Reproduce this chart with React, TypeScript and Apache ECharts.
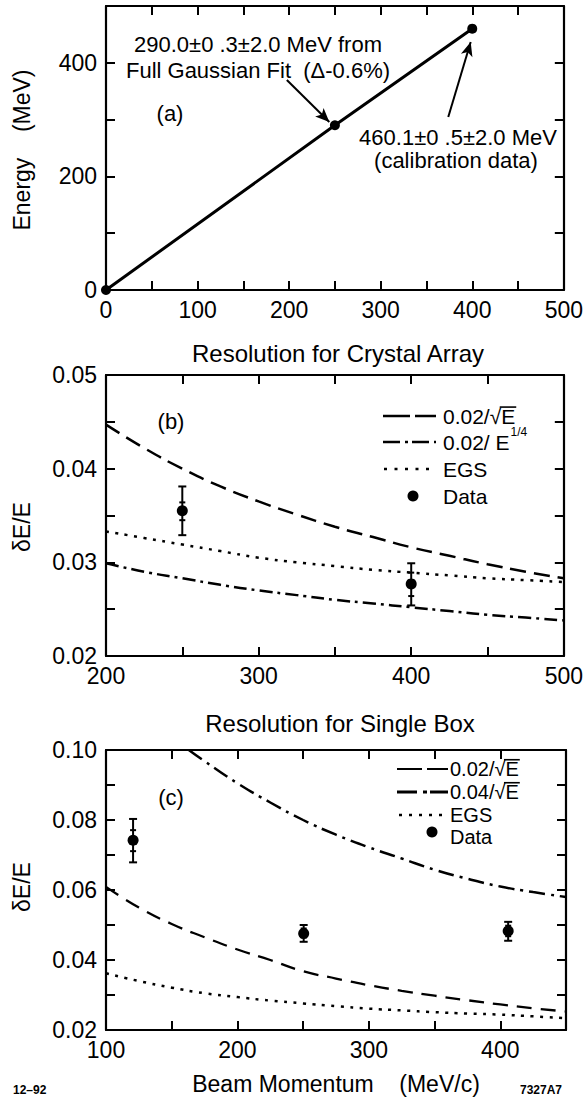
import React, { useEffect, useRef } from "react";
import * as echarts from "echarts";

// ---------- Panel (a): energy calibration ----------
const aMomentum = [0, 250, 400];
const aEnergy = [0, 290.0, 460.1];

// ---------- Panel (b): Resolution for Crystal Array ----------
const bCurveX = [200, 225, 250, 275, 300, 325, 350, 375, 400, 425, 450, 475, 500];
const bSqrt02 = [0.0447, 0.0422, 0.04, 0.0381, 0.0365, 0.0351, 0.0338, 0.0327, 0.0316, 0.0307, 0.0298, 0.029, 0.0283];
const bQuart02 = [0.0299, 0.029, 0.0283, 0.0276, 0.027, 0.0265, 0.026, 0.0256, 0.0252, 0.0248, 0.0244, 0.0241, 0.0238];
const bEGS = [0.0333, 0.0326, 0.0319, 0.0312, 0.0305, 0.03, 0.0296, 0.0292, 0.0289, 0.0286, 0.0283, 0.0281, 0.0279];
const bDataX = [250, 400];
const bDataY = [0.0355, 0.0277];
const bDataLo = [0.0329, 0.0254];
const bDataHi = [0.0381, 0.0299];
const bStatLo = [0.0345, 0.0264];
const bStatHi = [0.0364, 0.0289];

// ---------- Panel (c): Resolution for Single Box ----------
const cCurveX = [100, 125, 150, 175, 200, 225, 250, 275, 300, 325, 350, 375, 400, 425, 450];
const cSqrt02 = [0.0609, 0.055, 0.0503, 0.0465, 0.043, 0.04, 0.0368, 0.0347, 0.0328, 0.0312, 0.0298, 0.0285, 0.0273, 0.0262, 0.0253];
const cEGS = [0.0362, 0.034, 0.0321, 0.0305, 0.0294, 0.0284, 0.0276, 0.0268, 0.0261, 0.0256, 0.0251, 0.0247, 0.0244, 0.0239, 0.0234];
const cSqrt04X = [163, 175, 200, 225, 250, 275, 300, 325, 350, 375, 400, 425, 450];
const cSqrt04 = [0.1, 0.0968, 0.0905, 0.085, 0.08, 0.0758, 0.0722, 0.069, 0.0658, 0.0632, 0.061, 0.0594, 0.058];
const cDataX = [120.6, 250.4, 406];
const cDataY = [0.0742, 0.0476, 0.0483];
const cDataLo = [0.0679, 0.0452, 0.0455];
const cDataHi = [0.0803, 0.05, 0.0509];
const cStatLo = [0.0711, 0.0464, 0.0468];
const cStatHi = [0.0771, 0.049, 0.0498];

const FONT = '"Liberation Sans", Arial, Helvetica, sans-serif';
const BLACK = "#000";
const NB = "\u00a0";

const isMult = (v: number, step: number) => Math.abs(v / step - Math.round(v / step)) < 1e-6;

function xAxes(grid: number, min: number, max: number, interval: number, labelStep: number) {
  const base = {
    type: "value",
    gridIndex: grid,
    min,
    max,
    interval,
    axisLine: { show: true, onZero: false, lineStyle: { color: BLACK, width: 2.2 } },
    axisTick: { show: true, inside: true, length: 9, lineStyle: { color: BLACK, width: 2 } },
    splitLine: { show: false },
  };
  return [
    {
      ...base,
      position: "bottom",
      axisLabel: {
        show: true,
        color: BLACK,
        fontFamily: FONT,
        fontSize: 23,
        margin: 8,
        formatter: (v: number) => (isMult(v, labelStep) ? String(Math.round(v)) : ""),
      },
    },
    { ...base, position: "top", axisLabel: { show: false } },
  ];
}

function yAxes(grid: number, min: number, max: number, interval: number, labelStep: number, decimals: number) {
  const base = {
    type: "value",
    gridIndex: grid,
    min,
    max,
    interval,
    axisLine: { show: true, onZero: false, lineStyle: { color: BLACK, width: 2.2 } },
    axisTick: { show: true, inside: true, length: 9, lineStyle: { color: BLACK, width: 2 } },
    splitLine: { show: false },
  };
  return [
    {
      ...base,
      position: "left",
      axisLabel: {
        show: true,
        color: BLACK,
        fontFamily: FONT,
        fontSize: 23,
        margin: 9,
        formatter: (v: number) => (isMult(v, labelStep) ? v.toFixed(decimals) : ""),
      },
    },
    { ...base, position: "right", axisLabel: { show: false } },
  ];
}

function curve(xi: number, yi: number, xs: number[], ys: number[], dash: number[], width = 2.5) {
  return {
    type: "line",
    xAxisIndex: xi,
    yAxisIndex: yi,
    data: xs.map((x, i) => [x, ys[i]]),
    smooth: true,
    showSymbol: false,
    symbol: "none",
    clip: true,
    lineStyle: { color: BLACK, width, type: dash, cap: "butt" },
    z: 2,
  };
}

function errorBars(xi: number, yi: number, xs: number[], ys: number[], lo: number[], hi: number[], sl: number[], sh: number[]) {
  return {
    type: "custom",
    xAxisIndex: xi,
    yAxisIndex: yi,
    data: xs.map((x, i) => [x, ys[i], lo[i], hi[i], sl[i], sh[i]]),
    encode: { x: 0, y: [1, 2, 3] },
    z: 3,
    renderItem: (_p: any, api: any) => {
      const x = api.value(0);
      const pHi = api.coord([x, api.value(3)]);
      const pLo = api.coord([x, api.value(2)]);
      const pSl = api.coord([x, api.value(4)]);
      const pSh = api.coord([x, api.value(5)]);
      const style = { stroke: BLACK, lineWidth: 2 };
      const cap = 4;
      const st = 3;
      const ln = (x1: number, y1: number, x2: number, y2: number) => ({
        type: "line",
        shape: { x1, y1, x2, y2 },
        style,
      });
      return {
        type: "group",
        children: [
          ln(pHi[0], pHi[1], pLo[0], pLo[1]),
          ln(pHi[0] - cap, pHi[1], pHi[0] + cap, pHi[1]),
          ln(pLo[0] - cap, pLo[1], pLo[0] + cap, pLo[1]),
          ln(pSh[0] - st, pSh[1], pSh[0] + st, pSh[1]),
          ln(pSl[0] - st, pSl[1], pSl[0] + st, pSl[1]),
        ],
      };
    },
  };
}

function dots(xi: number, yi: number, xs: number[], ys: number[], size = 11) {
  return {
    type: "scatter",
    xAxisIndex: xi,
    yAxisIndex: yi,
    data: xs.map((x, i) => [x, ys[i]]),
    symbol: "circle",
    symbolSize: size,
    itemStyle: { color: BLACK, opacity: 1 },
    z: 4,
  };
}

const txt = (x: number, y: number, text: string, size = 22, align = "left", extra: any = {}, weight = "normal") => ({
  type: "text",
  x,
  y,
  silent: true,
  ...extra,
  style: {
    text,
    fill: BLACK,
    font: `${weight} ${size}px ${FONT}`,
    textAlign: align,
    textVerticalAlign: "middle",
  },
});

const seg = (x1: number, y1: number, x2: number, y2: number, dash: number[] | null, width = 2.5) => ({
  type: "line",
  silent: true,
  shape: { x1, y1, x2, y2 },
  style: { stroke: BLACK, lineWidth: width, lineDash: dash || undefined },
});

// measure text widths so that the square-root bar sits over the E
function measure(text: string, size: number) {
  const c = document.createElement("canvas").getContext("2d");
  if (!c) return { w: text.length * size * 0.55, asc: size * 0.8 };
  c.font = `${size}px ${FONT}`;
  const m = c.measureText(text);
  return { w: m.width, asc: m.actualBoundingBoxAscent || size * 0.8 };
}

function sqrtLabel(x: number, cy: number, text: string, size: number) {
  const pre = measure(text.slice(0, text.length - 1), size).w;
  const full = measure(text, size).w;
  const rad = measure("√", size).asc;
  const baseline = cy + size * 0.3465;
  const yBar = baseline - rad + 0.8;
  return [txt(x, cy, text, size), seg(x + pre - 1.5, yBar, x + full + 1, yBar, null, 1.6)];
}

export default function App() {
  const ref = useRef<HTMLDivElement>(null);

  useEffect(() => {
    if (!ref.current) return;
    const chart = echarts.init(ref.current, undefined, { renderer: "svg" });

    const dashLong = [16, 8];
    const dashDot = [13, 5, 3, 5];
    const dotted = [3, 6.5];

    const fb = 21;
    const fc = 20;
    const quartW = measure(`0.02/${NB}E`, fb).w;

    const option: any = {
      animation: false,
      backgroundColor: "#fff",
      grid: [
        { left: 106, top: 6, width: 461, height: 284 },
        { left: 106, top: 375, width: 460, height: 281 },
        { left: 106, top: 750, width: 460, height: 280 },
      ],
      xAxis: [
        ...xAxes(0, 0, 500, 50, 100),
        ...xAxes(1, 200, 500, 50, 100),
        ...xAxes(2, 100, 450, 50, 100),
      ],
      yAxis: [
        ...yAxes(0, 0, 500, 100, 200, 0),
        ...yAxes(1, 0.02, 0.05, 0.005, 0.01, 2),
        ...yAxes(2, 0.02, 0.1, 0.01, 0.02, 2),
      ],
      series: [
        {
          type: "line",
          xAxisIndex: 0,
          yAxisIndex: 0,
          data: aMomentum.map((x, i) => [x, aEnergy[i]]),
          symbol: "circle",
          symbolSize: 10,
          showSymbol: true,
          itemStyle: { color: BLACK, opacity: 1 },
          lineStyle: { color: BLACK, width: 3 },
          clip: false,
          z: 3,
          markLine: {
            silent: true,
            symbol: ["none", "arrow"],
            symbolSize: [9, 14],
            label: { show: false },
            lineStyle: { color: BLACK, width: 2, type: "solid" },
            data: [
              [{ coord: [197.5, 369.7] }, { coord: [243.9, 295.8] }],
              [{ coord: [373.8, 304.6] }, { coord: [398.3, 436.6] }],
            ],
          },
        },
        curve(2, 2, bCurveX, bSqrt02, dashLong),
        curve(2, 2, bCurveX, bQuart02, dashDot),
        curve(2, 2, bCurveX, bEGS, dotted),
        errorBars(2, 2, bDataX, bDataY, bDataLo, bDataHi, bStatLo, bStatHi),
        dots(2, 2, bDataX, bDataY),
        curve(4, 4, cCurveX, cSqrt02, [15, 9], 2.3),
        curve(4, 4, cSqrt04X, cSqrt04, [16, 6, 3, 6]),
        curve(4, 4, cCurveX, cEGS, dotted),
        errorBars(4, 4, cDataX, cDataY, cDataLo, cDataHi, cStatLo, cStatHi),
        dots(4, 4, cDataX, cDataY),
      ],
      graphic: [
        // panel (a)
        txt(22, 150, `Energy${NB}${NB}${NB}${NB}(MeV)`, 23, "center", { rotation: Math.PI / 2 }),
        txt(258, 44, `290.0±0${NB}.3±2.0 MeV from`, 22, "center"),
        txt(258, 70, `Full Gaussian Fit${NB}${NB}(Δ-0.6%)`, 22, "center"),
        txt(170, 113, "(a)", 22, "center"),
        txt(458, 137, `460.1±0${NB}.5±2.0 MeV`, 22, "center"),
        txt(456, 160, "(calibration data)", 22, "center"),
        // panel (b)
        txt(338, 353, "Resolution for Crystal Array", 24, "center"),
        txt(22, 527, "δE/E", 23, "center", { rotation: Math.PI / 2 }),
        txt(171, 421, "(b)", 22, "center"),
        seg(383, 416, 436, 416, [27, 5]),
        ...sqrtLabel(443, 416, "0.02/√E", fb),
        seg(383, 442, 436, 442, [17, 5, 3, 4]),
        txt(443, 442, `0.02/${NB}E`, fb),
        txt(443 + quartW + 1, 432, "1/4", 12),
        seg(384, 469, 436, 469, [3, 7.5]),
        txt(443, 469, "EGS", fb),
        { type: "circle", silent: true, shape: { cx: 413, cy: 496, r: 5.5 }, style: { fill: BLACK } },
        txt(443, 496, "Data", fb),
        // panel (c)
        txt(340, 723, "Resolution for Single Box", 24, "center"),
        txt(22, 887, "δE/E", 23, "center", { rotation: Math.PI / 2 }),
        txt(171, 797, "(c)", 22, "center"),
        seg(397, 769, 448, 769, [25, 5], 2),
        ...sqrtLabel(450, 769, "0.02/√E", fc),
        seg(397, 792, 448, 792, [20, 6, 4, 3], 3),
        ...sqrtLabel(450, 792, "0.04/√E", fc),
        seg(399, 815, 448, 815, [3, 7]),
        txt(450, 815, "EGS", fc),
        { type: "circle", silent: true, shape: { cx: 432, cy: 832, r: 5.5 }, style: { fill: BLACK } },
        txt(450, 837, "Data", fc),
        txt(336, 1084, `Beam Momentum${NB}${NB}${NB}${NB}(MeV/c)`, 23, "center"),
        txt(13, 1090, "12–92", 12, "left", {}, "bold"),
        txt(562, 1090, "7327A7", 12, "right", {}, "bold"),
      ],
    };

    chart.setOption(option);
    return () => chart.dispose();
  }, []);

  return (
    <div
      ref={ref}
      style={{ position: "absolute", left: 0, top: 0, width: 586, height: 1098, background: "#fff" }}
    />
  );
}
